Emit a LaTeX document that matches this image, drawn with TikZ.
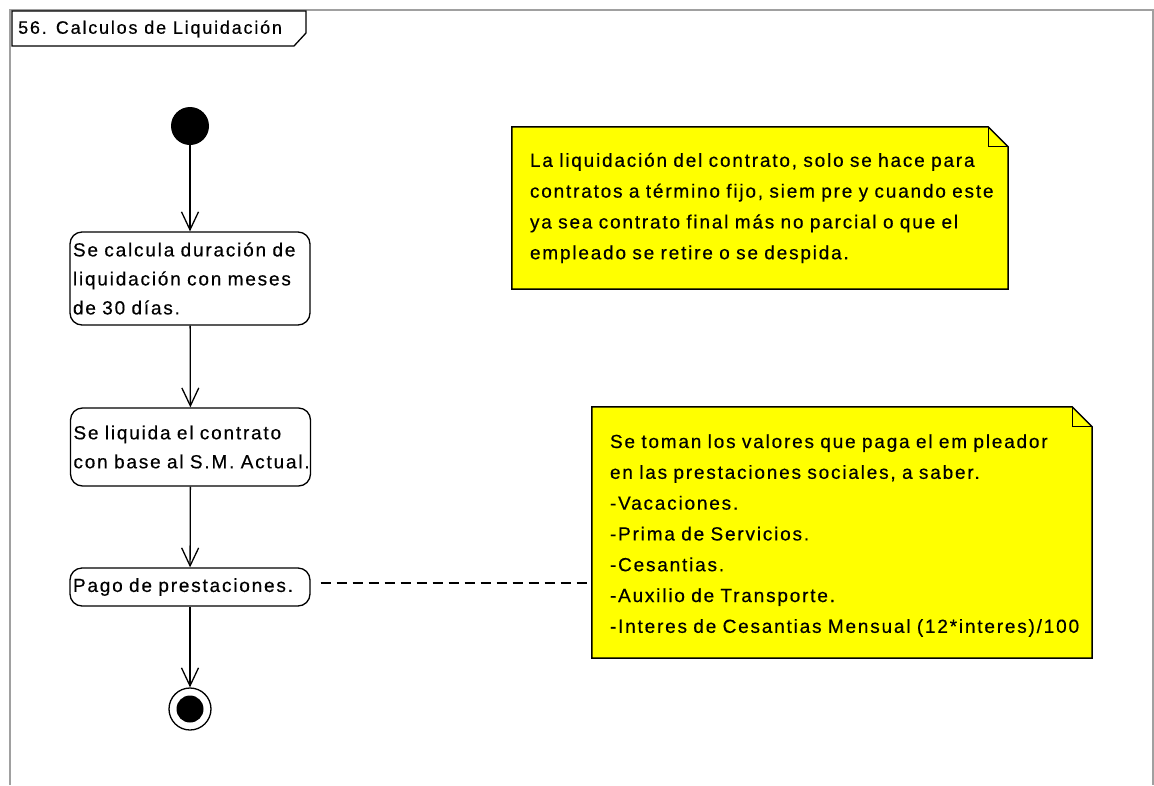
\documentclass[tikz,border=0pt]{standalone}
\usepackage{fontspec}
\usetikzlibrary{arrows.meta,calc}
\newfontfamily\uifont[LetterSpace=9.5,FakeBold=0.4]{Liberation Sans}
\newfontfamily\titlefont[LetterSpace=10,FakeBold=0.4]{Liberation Sans}
\definecolor{framegray}{HTML}{A0A0A0}
\definecolor{noteyellow}{HTML}{FFFF00}
\begin{document}
\begin{tikzpicture}[x=1pt,y=-1pt,
  actionbox/.style={draw, line width=1.3pt, rounded corners=12pt, align=left,
    inner xsep=3pt, inner ysep=0pt, minimum width=240pt, text width=234pt,
    font=\uifont\fontsize{19}{29}\selectfont},
  notebox/.style={draw=none, fill=none, align=left, inner xsep=18pt, inner ysep=0pt,
    font=\uifont\fontsize{19}{30.8}\selectfont},
  flow/.style={line width=1.3pt, -{Straight Barb[length=18pt,width=17pt,line width=1.3pt]}},
  noteline/.style={line width=1.3pt, dash pattern=on 10pt off 6pt},
  noteoutline/.style={draw, line width=1.5pt, fill=noteyellow},
  frameline/.style={draw=framegray, line width=2pt}
]
\useasboundingbox (0,0) rectangle (1154,785);
% frame
\draw[frameline] (10,785) -- (10,10) -- (1153,10) -- (1153,785);
% title tab
\draw[line width=1.3pt, fill=white] (12,11) -- (306,11) -- (306,33) -- (294,46) -- (12,46) -- cycle;
\node[anchor=west, inner sep=0pt, font=\titlefont\fontsize{18}{22}\selectfont] (title) at (18,29) {56. Calculos de Liquidación};

% initial
\node[circle, fill=black, minimum size=38pt, inner sep=0pt] (start) at (190,126) {};
% actions
\node[actionbox, minimum height=93pt] (a1) at (190,278.5) {Se calcula duración de\\liquidación con meses\\de 30 días.};
\node[actionbox, minimum height=78pt] (a2) at (190.5,447) {Se liquida el contrato\\con base al S.M. Actual.};
\node[actionbox, minimum height=38pt] (a3) at (190,587) {Pago de prestaciones.};
% final
\node[circle, draw, line width=1.3pt, minimum size=42pt, inner sep=0pt] (end) at (190,709) {};
\node[circle, fill=black, minimum size=27pt, inner sep=0pt] (endin) at (end.center) {};

\draw[flow] (start) -- (a1);
\draw[flow] (a1) -- (a2);
\draw[flow] (a2) -- (a3);
\draw[flow] (a3) -- (end);

% note 1
\node[notebox, minimum width=496pt, minimum height=162pt, text width=460pt] (n1) at (760,208) {};
\draw[noteoutline] (n1.north west) -- ($(n1.north east)+(-20,0)$) -- ($(n1.north east)+(0,20)$) -- (n1.south east) -- (n1.south west) -- cycle;
\draw[line width=1.3pt] ($(n1.north east)+(-20,0)$) -- ($(n1.north east)+(-20,20)$) -- ($(n1.north east)+(0,20)$);
\node[notebox, text width=460pt, anchor=west] (n1t) at ($(n1.west)+(0,0)$) {La liquidación del contrato, solo se hace para\\contratos a término fijo, siem pre y cuando este\\ya sea contrato final más no parcial o que el\\empleado se retire o se despida.};

% note 2
\node[notebox, minimum width=500pt, minimum height=251pt, text width=464pt] (n2) at (842,532.5) {};
\draw[noteoutline] (n2.north west) -- ($(n2.north east)+(-20,0)$) -- ($(n2.north east)+(0,20)$) -- (n2.south east) -- (n2.south west) -- cycle;
\draw[line width=1.3pt] ($(n2.north east)+(-20,0)$) -- ($(n2.north east)+(-20,20)$) -- ($(n2.north east)+(0,20)$);
\node[notebox, text width=464pt, anchor=west] (n2t) at ($(n2.west)+(0,3)$) {Se toman los valores que paga el em pleador\\en las prestaciones sociales, a saber.\\-Vacaciones.\\-Prima de Servicios.\\-Cesantias.\\-Auxilio de Transporte.\\-Interes de Cesantias Mensual (12*interes)/100};

\draw[noteline] ($(a3.east)+(10,-4)$) -- ($(a3.east -| n2.west)+(0,-4)$);
\end{tikzpicture}
\end{document}
